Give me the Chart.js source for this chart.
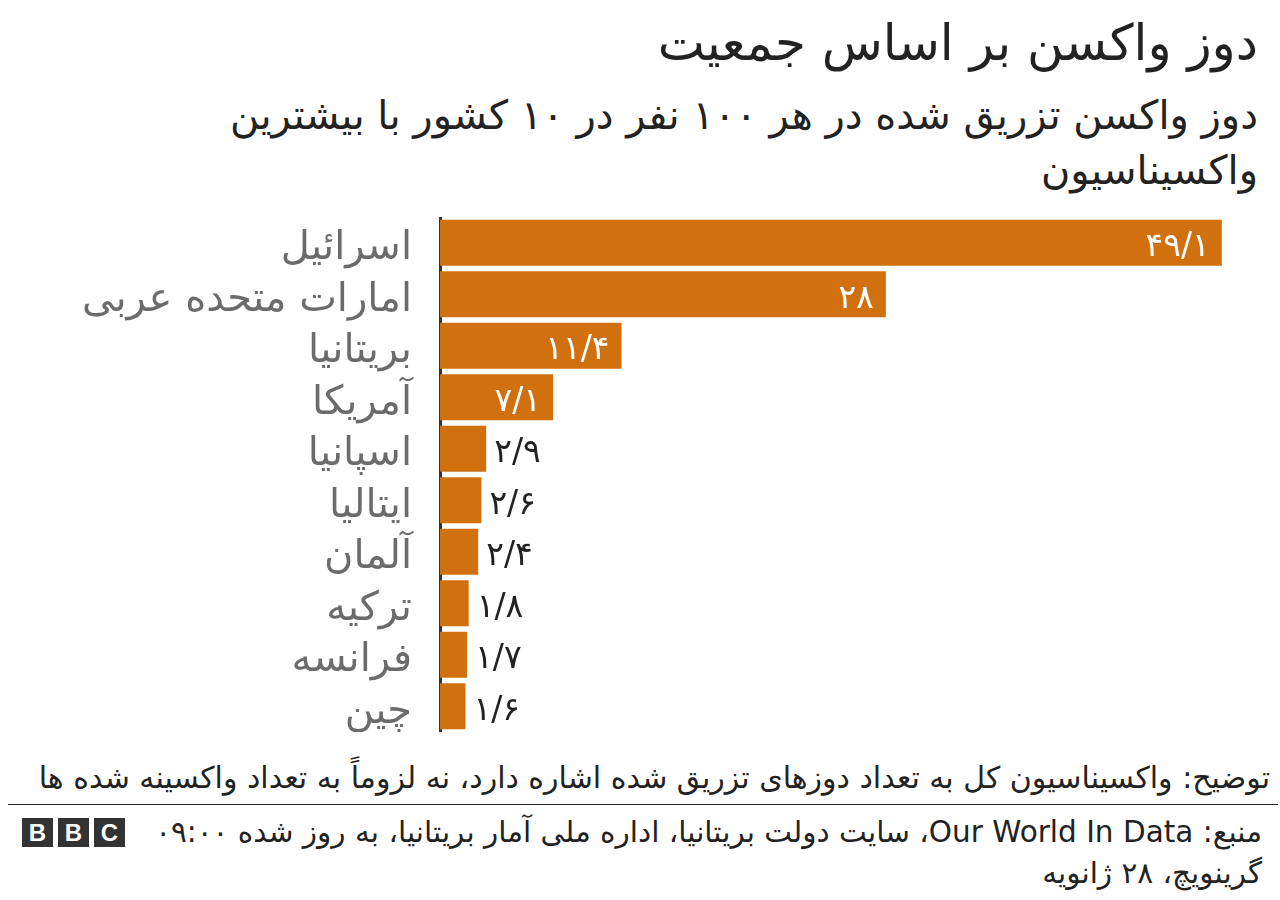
<!DOCTYPE html>
<html lang="fa">

<head>
    <meta charset="utf-8" />
    <title>دوز واکسن بر اساس جمعیت</title>
    <script src="https://cdn.jsdelivr.net/npm/chart.js"></script>
    <style>
        body { margin: 0; width: 1280px; height: 900px; background: #fff; font-family: "DejaVu Sans", sans-serif; position: relative; overflow: hidden; }
        .titulo { position: absolute; right: 22px; top: 13px; font-size: 50px; line-height: 60px; color: #222; direction: rtl; white-space: nowrap; }
        .subtitulo { position: absolute; right: 22px; top: 88px; font-size: 40px; line-height: 55px; color: #222; direction: rtl; text-align: right; white-space: nowrap; }
        .grafico_container { position: absolute; left: 0; top: 217px; width: 1280px; height: 515px; }
        .nota { position: absolute; right: 10px; top: 758px; font-size: 30px; line-height: 40px; color: #222; direction: rtl; white-space: nowrap; }
        .linha { position: absolute; left: 8px; right: 2px; top: 804px; border-top: 1px solid #222; }
        .fonte { position: absolute; right: 18px; top: 812px; font-size: 29.5px; line-height: 41px; color: #222; direction: rtl; text-align: right; white-space: nowrap; }
        .logo { position: absolute; left: 22px; top: 818px; display: flex; gap: 5px; }
        .logo span { width: 31px; height: 29px; background: #333; color: #fff; font: bold 24px "Liberation Sans", sans-serif; text-align: center; line-height: 29px; }
    </style>
</head>

<body>
    <div class="titulo">دوز واکسن بر اساس جمعیت</div>
    <div class="subtitulo">دوز واکسن تزریق شده در هر ۱۰۰ نفر در ۱۰ کشور با بیشترین<br>واکسیناسیون</div>

    <div class="grafico_container">
        <canvas id="grafico_doses" width="1280" height="515"></canvas>
    </div>

    <div class="nota">توضیح: واکسیناسیون کل به تعداد دوزهای تزریق شده اشاره دارد، نه لزوماً به تعداد واکسینه شده ها</div>
    <div class="linha"></div>
    <div class="logo"><span>B</span><span>B</span><span>C</span></div>
    <div class="fonte">منبع: Our World In Data، سایت دولت بریتانیا، اداره ملی آمار بریتانیا، به روز شده ۰۹:۰۰<br>گرینویچ، ۲۸ ژانویه</div>

<script>
    // Dados do gráfico
    const paises = ["اسرائیل", "امارات متحده عربی", "بریتانیا", "آمریکا", "اسپانیا", "ایتالیا", "آلمان", "ترکیه", "فرانسه", "چین"];
    const doses = [49.1, 28, 11.4, 7.1, 2.9, 2.6, 2.4, 1.8, 1.7, 1.6];
    const limiteDentro = 5; // acima disso o rótulo fica dentro da barra

    // Converte 49.1 -> ۴۹/۱
    function numeroPersa(v) {
        const digitos = "۰۱۲۳۴۵۶۷۸۹";
        return String(v).replace(".", "/").replace(/[0-9]/g, (d) => digitos[d]);
    }

    // Plugin para escrever os valores nas barras
    const rotulosValores = {
        id: "rotulosValores",
        afterDatasetsDraw(chart) {
            const ctx = chart.ctx;
            const meta = chart.getDatasetMeta(0);
            ctx.save();
            ctx.font = '33px "DejaVu Sans", sans-serif';
            ctx.textBaseline = "middle";
            ctx.direction = "ltr";
            meta.data.forEach((bar, i) => {
                const texto = numeroPersa(doses[i]);
                if (doses[i] > limiteDentro) {
                    ctx.fillStyle = "#ffffff";
                    ctx.textAlign = "right";
                    ctx.fillText(texto, bar.x - 12, bar.y + 5);
                } else {
                    ctx.fillStyle = "#222222";
                    ctx.textAlign = "left";
                    ctx.fillText(texto, bar.x + 8, bar.y + 5);
                }
            });
            ctx.restore();
        }
    };

    const ctxDoses = document.getElementById("grafico_doses").getContext("2d");
    new Chart(ctxDoses, {
        type: "bar",
        data: {
            labels: paises,
            datasets: [{
                data: doses,
                backgroundColor: "#d1700f",
                barPercentage: 0.893,
                categoryPercentage: 1,
            }],
        },
        options: {
            indexAxis: "y",
            responsive: false,
            animation: false,
            layout: { padding: { left: 0, right: 12, top: 0, bottom: 0 } },
            plugins: {
                legend: { display: false },
                tooltip: { enabled: false },
            },
            scales: {
                x: { display: false, min: 0, max: 52 },
                y: {
                    afterFit: (axis) => {
                        axis.width = 440;
                        axis.paddingTop = 0;
                        axis.paddingBottom = 0;
                    },
                    grid: { display: false, drawTicks: false },
                    border: { display: true, color: "#333333", width: 3 },
                    ticks: {
                        color: "#6b6b6b",
                        padding: 28,
                        labelOffset: 6,
                        font: { size: 40, family: "DejaVu Sans" },
                    },
                },
            },
        },
        plugins: [rotulosValores],
    });
</script>
</body>

</html>
